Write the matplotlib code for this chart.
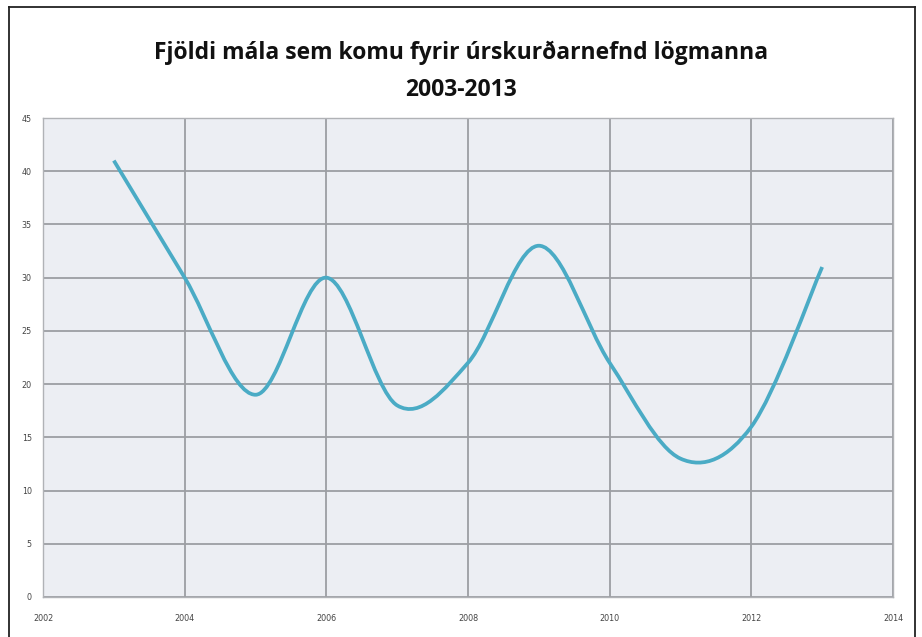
import matplotlib
matplotlib.use("Agg")
import matplotlib.pyplot as plt
from matplotlib.path import Path
from matplotlib.patches import PathPatch
from matplotlib.lines import Line2D
import numpy as np

years = [2003, 2004, 2005, 2006, 2007, 2008, 2009, 2010, 2011, 2012, 2013]
cases = [41, 30, 19, 30, 18, 22, 33, 22, 13, 16, 31]
title = "Fjöldi mála sem komu fyrir úrskurðarnefnd lögmanna\n2003-2013"
xticks = [2002, 2004, 2006, 2008, 2010, 2012, 2014]
yticks = [0, 5, 10, 15, 20, 25, 30, 35, 40, 45]

W, H = 922, 637
fig = plt.figure(figsize=(W / 100, H / 100), dpi=100)
fig.patch.set_facecolor("white")

ax = fig.add_axes([43 / W, 1 - 597 / H, (893 - 43) / W, (597 - 118) / H])
ax.set_facecolor("#eceef3")
ax.set_xlim(2002, 2014)
ax.set_ylim(0, 45)
ax.set_xticks(xticks)
ax.set_yticks(yticks)
ax.set_xticklabels([str(t) for t in xticks], fontsize=5.8, color="#444444")
ax.set_yticklabels([str(t) for t in yticks], fontsize=5.8, color="#444444")
ax.tick_params(axis="x", length=0, pad=12)
ax.tick_params(axis="y", length=0, pad=8)
ax.grid(True, color="#9c9ea3", linewidth=1.3)
ax.set_axisbelow(True)
for s in ax.spines.values():
    s.set_color("#b0b2b6")
    s.set_linewidth(1.0)

# Smoothed line (Catmull-Rom style Bezier, like Excel's smoothed line)
pts = np.column_stack([years, cases]).astype(float)
verts = [tuple(pts[0])]
codes = [Path.MOVETO]
n = len(pts)
for i in range(n - 1):
    p0 = pts[i - 1] if i > 0 else pts[i]
    p1 = pts[i]
    p2 = pts[i + 1]
    p3 = pts[i + 2] if i + 2 < n else pts[i + 1]
    c1 = p1 + (p2 - p0) / 6.0
    c2 = p2 - (p3 - p1) / 6.0
    verts += [tuple(c1), tuple(c2), tuple(p2)]
    codes += [Path.CURVE4] * 3
path = Path(verts, codes)
ax.add_patch(PathPatch(path, facecolor="none", edgecolor="#4aabc5",
                       linewidth=2.7, capstyle="butt", joinstyle="round", zorder=3))

fig.text(0.5, 1 - 71 / H, title, ha="center", va="center", fontsize=16.5,
         fontweight="bold", family=["Open Sans", "DejaVu Sans"], color="#111111",
         linespacing=1.72)

# figure frame
x0, x1 = 9 / W, 915 / W
y0 = 1 - 7 / H
fig.add_artist(Line2D([x0, x0], [0, y0], color="#222222", linewidth=1.3))
fig.add_artist(Line2D([x1, x1], [0, y0], color="#222222", linewidth=1.3))
fig.add_artist(Line2D([x0, x1], [y0, y0], color="#222222", linewidth=1.3))

fig.savefig("out.png", dpi=100)
